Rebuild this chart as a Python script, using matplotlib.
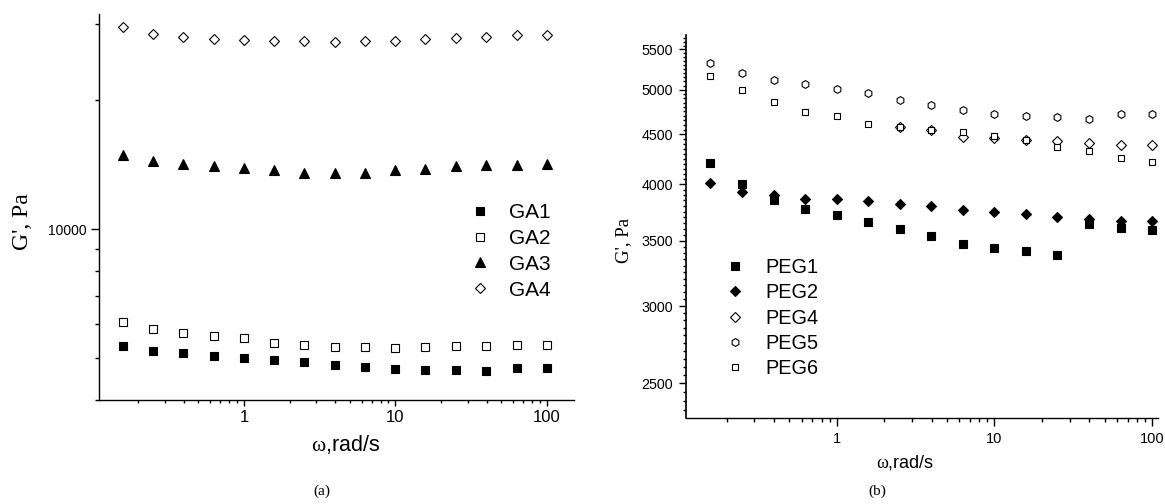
import matplotlib
matplotlib.use('Agg')
import matplotlib.pyplot as plt
from matplotlib.ticker import (FixedLocator, NullFormatter, FormatStrFormatter,
                               LogLocator, MultipleLocator)

plt.rcParams['font.family'] = ['Liberation Sans', 'DejaVu Sans']
plt.rcParams['mathtext.fontset'] = 'custom'
plt.rcParams['mathtext.rm'] = 'Liberation Serif'

# angular frequency, rad/s
freq = [0.158, 0.251, 0.398, 0.631, 1.0, 1.58, 2.51, 3.98, 6.31, 10.0,
        15.8, 25.1, 39.8, 63.1, 100.0]

# (a) G', Pa
ga1 = [5352, 5212, 5137, 5074, 5020, 4966, 4895, 4835, 4776, 4733,
       4708, 4700, 4675, 4740, 4740]
ga2 = [6075, 5853, 5718, 5627, 5566, 5440, 5373, 5324, 5305, 5288,
       5305, 5332, 5352, 5373, 5373]
ga3 = [14885, 14414, 14184, 14012, 13908, 13737, 13539, 13539, 13539, 13737,
       13810, 14035, 14110, 14133, 14210]
ga4 = [29590, 28455, 27955, 27705, 27598, 27452, 27364, 27307, 27364, 27452,
       27660, 27806, 28045, 28257, 28350]

# (b) G', Pa
peg1 = [4204, 4005, 3854, 3776, 3717, 3656, 3597, 3538, 3476, 3439,
        3417, 3387, 3639, 3605, 3588]
peg2 = [4015, 3930, 3900, 3867, 3864, 3846, 3818, 3797, 3767, 3746,
        3725, 3705, 3685, 3668, 3668]
peg4_freq = [2.51, 3.98, 6.31, 10.0, 15.8, 25.1, 39.8, 63.1, 100.0]
peg4 = [4580, 4547, 4476, 4459, 4444, 4433, 4406, 4386, 4386]
peg5 = [5329, 5204, 5120, 5065, 5012, 4962, 4885, 4824, 4764, 4722,
        4696, 4685, 4667, 4722, 4722]
peg6 = [5162, 4997, 4855, 4745, 4696, 4615, 4576, 4547, 4522, 4483,
        4444, 4371, 4327, 4256, 4216]

W, H = 1165, 504
fig = plt.figure(figsize=(W / 100, H / 100), dpi=100)

def px_axes(x0, y0, x1, y1):
    return fig.add_axes([x0 / W, 1 - y1 / H, (x1 - x0) / W, (y1 - y0) / H])

def style(ax):
    for s in ['top', 'right']:
        ax.spines[s].set_visible(False)
    for s in ['left', 'bottom']:
        ax.spines[s].set_linewidth(1.0)
    ax.set_xscale('log')
    ax.set_yscale('log')
    ax.xaxis.set_major_locator(LogLocator(base=10))
    ax.xaxis.set_minor_locator(LogLocator(base=10, subs=range(2, 10)))
    ax.xaxis.set_major_formatter(FormatStrFormatter('%g'))
    ax.xaxis.set_minor_formatter(NullFormatter())

kw_open = dict(ls='none', mfc='white', mec='black', mew=0.8)
kw_fill = dict(ls='none', mfc='black', mec='black', mew=0.8)

# ---- (a) ----
ax1 = px_axes(98.7, 14, 574, 400)
style(ax1)
ax1.plot(freq, ga1, marker='s', ms=5.5, label='GA1', **kw_fill)
ax1.plot(freq, ga2, marker='s', ms=5.5, label='GA2', **kw_open)
ax1.plot(freq, ga3, marker='^', ms=7.3, label='GA3', **kw_fill)
ax1.plot(freq, ga4, marker='D', ms=5.6, label='GA4', **kw_open)
ax1.set_xlim(0.11, 151)
ax1.set_ylim(4000, 31700)
ax1.yaxis.set_major_locator(FixedLocator([10000]))
ax1.yaxis.set_minor_locator(FixedLocator([4000, 5000, 6000, 7000, 8000, 9000, 20000, 30000]))
ax1.yaxis.set_major_formatter(FormatStrFormatter('%d'))
ax1.yaxis.set_minor_formatter(NullFormatter())
ax1.tick_params(axis='y', which='major', length=5.8, width=1, labelsize=10, pad=3)
ax1.tick_params(axis='y', which='minor', length=3.2, width=1)
ax1.tick_params(axis='x', which='major', length=4.3, width=1, labelsize=12, pad=3)
ax1.tick_params(axis='x', which='minor', length=2.5, width=1)
ax1.legend(loc='upper left', bbox_to_anchor=(469.6 / W, 1 - 203 / H),
           bbox_transform=fig.transFigure, frameon=False, fontsize=15,
           handlelength=1.0, handletextpad=0.9, labelspacing=0.33,
           borderpad=0, borderaxespad=0)

fig.text(22 / W, 1 - 222 / H, "G', Pa", family='Liberation Serif', fontsize=17,
         rotation=90, ha='center', va='center')
fig.text(346 / W, 1 - 445 / H, r'$\mathrm{\omega}$,rad/s', fontsize=15.5,
         ha='center', va='center')
fig.text(322 / W, 1 - 491 / H, '(a)', family='Liberation Serif', fontsize=11,
         ha='center', va='center')

# ---- (b) ----
ax2 = px_axes(685.7, 35, 1158, 418.3)
style(ax2)
ax2.plot(freq, peg1, marker='s', ms=5.2, label='PEG1', **kw_fill)
ax2.plot(freq, peg2, marker='D', ms=5.0, label='PEG2', **kw_fill)
ax2.plot(peg4_freq, peg4, marker='D', ms=5.0, label='PEG4', **kw_open)
ax2.plot(freq, peg5, marker='h', ms=5.6, label='PEG5', **kw_open)
ax2.plot(freq, peg6, marker='s', ms=5.0, label='PEG6', **kw_open)
ax2.set_xlim(0.11, 109)
ax2.set_ylim(2302, 5690)
ax2.yaxis.set_major_locator(MultipleLocator(500))
ax2.yaxis.set_minor_locator(MultipleLocator(50))
ax2.yaxis.set_major_formatter(FormatStrFormatter('%d'))
ax2.yaxis.set_minor_formatter(NullFormatter())
ax2.spines['left'].set_linewidth(1.2)
ax2.tick_params(axis='y', which='major', length=5, width=1, labelsize=10.3, pad=4)
ax2.tick_params(axis='y', which='minor', length=2.5, width=1)
ax2.tick_params(axis='x', which='major', length=5.8, width=1, labelsize=10.5, pad=4)
ax2.tick_params(axis='x', which='minor', length=3, width=1)
ax2.legend(loc='upper left', bbox_to_anchor=(725.4 / W, 1 - 258 / H),
           bbox_transform=fig.transFigure, frameon=False, fontsize=14.3,
           handlelength=1.0, handletextpad=1.0, labelspacing=0.32,
           borderpad=0, borderaxespad=0)

fig.text(624 / W, 1 - 240 / H, "G', Pa", family='Liberation Serif', fontsize=13.5,
         rotation=90, ha='center', va='center')
fig.text(905 / W, 1 - 462 / H, r'$\mathrm{\omega}$,rad/s', fontsize=13,
         ha='center', va='center')
fig.text(877 / W, 1 - 491 / H, '(b)', family='Liberation Serif', fontsize=11,
         ha='center', va='center')

fig.savefig('out.png', dpi=100)
